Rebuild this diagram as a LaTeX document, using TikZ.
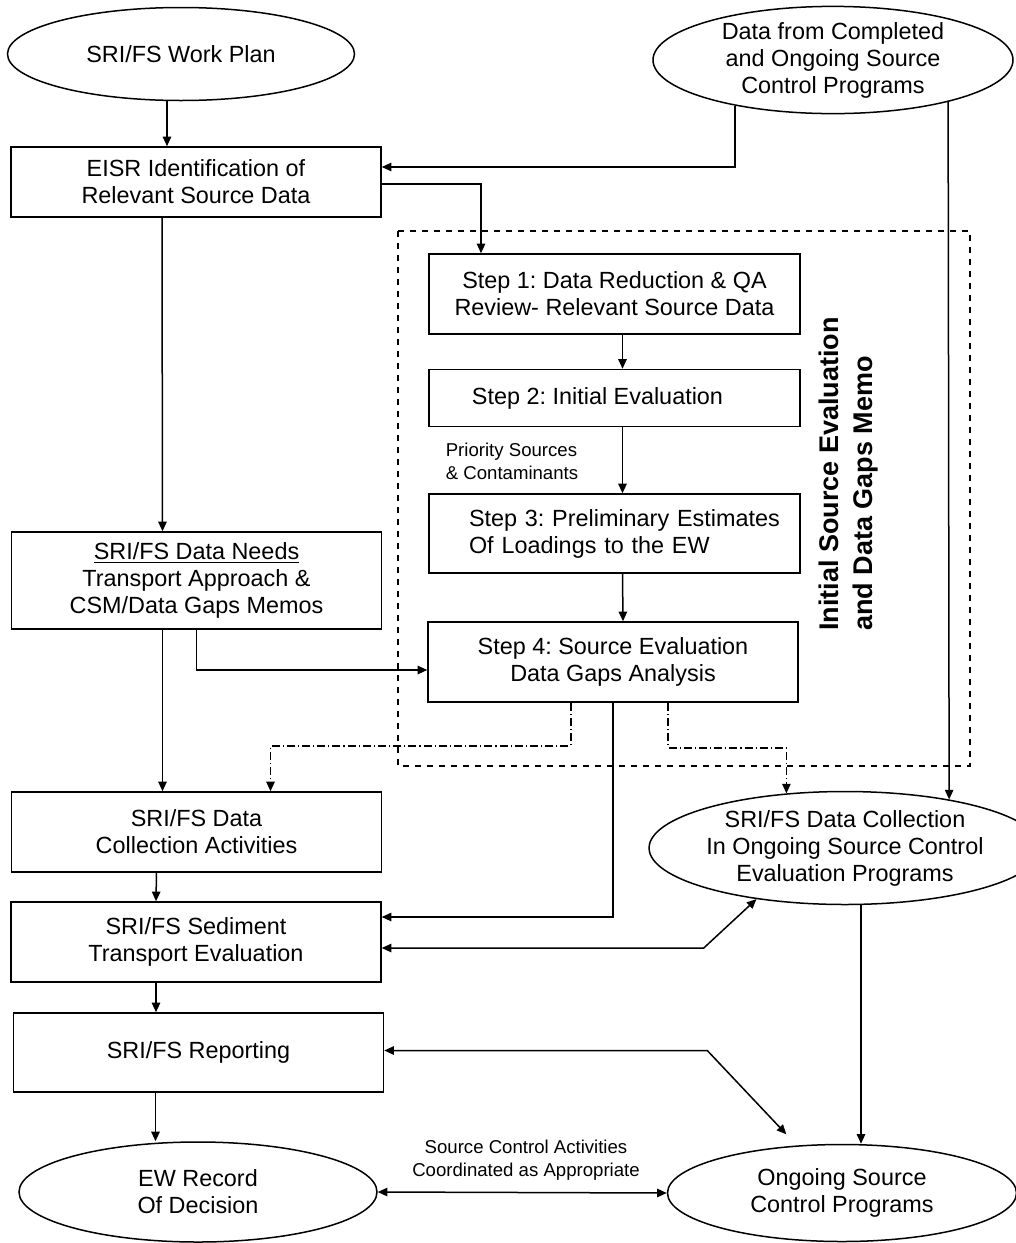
\documentclass[tikz,border=0pt]{standalone}
\usepackage{fontspec}
\setmainfont{Liberation Sans}
\usepackage{tikz}
\usetikzlibrary{shapes.geometric,arrows.meta}
\frenchspacing

\begin{document}
\begin{tikzpicture}
  [x=0.5pt, y=-0.5pt, line width=0.75pt,
   font=\fontsize{11.7}{13.5}\selectfont,
   box/.style={draw, rectangle, align=center, minimum width=185pt, inner sep=1pt},
   oval/.style={draw, ellipse, align=center, inner sep=0pt},
   arr/.style={-{Triangle[length=4.8pt, width=4.2pt]}},
   arrs/.style={{Triangle[length=4.8pt, width=4.2pt]}-{Triangle[length=4.8pt, width=4.2pt]}},
   dashdot/.style={dash pattern=on 4pt off 1.5pt on 0.6pt off 1.5pt},
   small/.style={font=\fontsize{9.3}{11.5}\selectfont, align=left}]
  \useasboundingbox (0,0) rectangle (1016,1243);
  \node[oval, minimum width=173.5pt, minimum height=46.5pt] (plan) at (181,54) {SRI/FS Work Plan};
  \node[oval, minimum width=180pt, minimum height=50.5pt] (data) at (833,60)
    {Data from Completed\\and Ongoing Source\\Control Programs};
  \node[box, minimum height=35pt] (eisr) at (196,182) {EISR Identification of\\Relevant Source Data};
  \draw[dashed] (398,231) rectangle (970,766);
  \node[box, minimum width=185.5pt, minimum height=40pt] (step1) at (614.5,294)
    {Step 1: Data Reduction \& QA\\Review- Relevant Source Data};
  \node[box, minimum width=185.5pt, minimum height=28.5pt] (step2) at (614.5,398)
    {Step 2: Initial Evaluation\hspace*{17pt}};
  \node[box, text width=183.5pt, align=left, minimum height=39.5pt] (step3) at (614.5,533.5)
    {\hspace*{19pt}Step 3: Preliminary Estimates\\\hspace*{19pt}Of Loadings to the EW};
  \node[box, minimum height=40pt] (step4) at (613,662) {Step 4: Source Evaluation\\Data Gaps Analysis};
  \node[small] (priority) at (512,461) {Priority Sources\\\& Contaminants};
  \node[rotate=90, align=left, font=\bfseries\fontsize{13.5}{17}\selectfont] (memo) at (849,474)
    {Initial Source Evaluation\\and Data Gaps Memo};
  \node[box, minimum height=48.5pt] (needs) at (196.5,580.5)
    {\underline{SRI/FS Data Needs}\\Transport Approach \&\\CSM/Data Gaps Memos};
  \node[box, minimum height=40pt] (collect) at (196.5,832) {SRI/FS Data\\Collection Activities};
  \node[oval, minimum width=172pt, minimum height=56.5pt] (sccoll) at (845,848)
    {SRI/FS Data Collection\\In Ongoing Source Control\\Evaluation Programs};
  \node[box, minimum height=40pt] (sediment) at (196,942) {SRI/FS Sediment\\Transport Evaluation};
  \node[box, minimum height=39.5pt] (report) at (198.5,1052.5) {SRI/FS Reporting};
  \node[oval, minimum width=179pt, minimum height=50pt] (record) at (198,1192) {EW Record\\Of Decision};
  \node[oval, minimum width=174.5pt, minimum height=48.5pt] (ongoing) at (842,1193)
    {Ongoing Source\\Control Programs};
  \node[small, align=center] (coord) at (526,1160) {Source Control Activities\\Coordinated as Appropriate};

  \draw[arr] ([xshift=-7pt]plan.south) -- ([xshift=-7pt]plan.south |- eisr.north);
  \draw[arr] (data.-155) |- ([yshift=7.5pt]eisr.east);
  \draw[arr] ([yshift=-1pt]eisr.east) -| ([xshift=-66.75pt]step1.north);
  \draw[arr] (data.-20) -- (sccoll.25);
  \draw[arr] ([xshift=4pt]step1.south) -- ([xshift=4pt]step2.north);
  \draw[arr] ([xshift=4pt]step2.south) -- ([xshift=4pt]step3.north);
  \draw[arr] ([xshift=4pt]step3.south) -- ([xshift=5pt]step4.north);
  \draw[arr] ([xshift=-17pt]eisr.south) -- ([xshift=-17pt]needs.north);
  \draw[arr] (needs.south) |- ([yshift=-4pt]step4.west);
  \draw[arr] ([xshift=-17pt]needs.south) -- ([xshift=-17pt]collect.north);
  \draw[arr, dashdot] ([xshift=-21pt]step4.south) -- ++(0,43) -| ([xshift=37pt]collect.north);
  \draw[arr, dashdot] ([xshift=27.5pt]step4.south) -- ++(0,45) -| (sccoll.137);
  \draw[arr] (step4.south) |- ([yshift=12.5pt]sediment.east);
  \draw[arr] ([xshift=-20pt]collect.south) -- ([xshift=-20pt]sediment.north);
  \draw[arrs] ([yshift=-3pt]sediment.east) -- ++(322,0) -- (sccoll.-150);
  \draw[arr] ([xshift=8pt]sccoll.south) -- ([xshift=8pt]sccoll.south |- ongoing.north);
  \draw[arr] ([xshift=-20pt]sediment.south) -- ([xshift=-20pt]sediment.south |- report.north);
  \draw[arrs] ([yshift=1pt]report.east) -- ++(323,0) -- ([yshift=6pt]ongoing.140);
  \draw[arr] ([xshift=-21.5pt]report.south) -- ([xshift=-21.5pt]report.south |- record.north);
  \draw[arrs] (record.east) -- (ongoing.west);
\end{tikzpicture}
\end{document}
